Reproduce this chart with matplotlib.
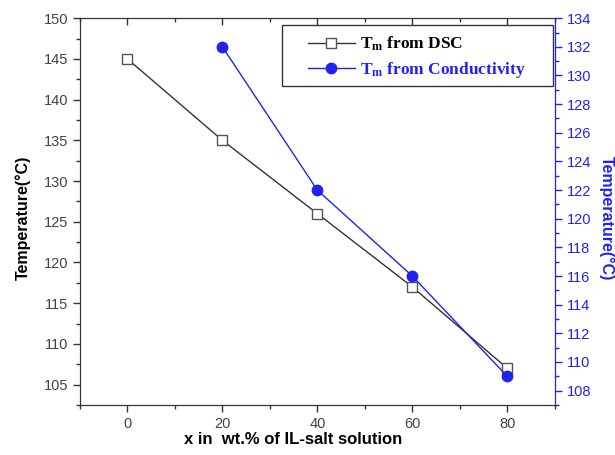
import matplotlib
matplotlib.use("Agg")
import matplotlib.pyplot as plt
from matplotlib.ticker import MultipleLocator
from matplotlib.patches import Rectangle

x_dsc = [0, 20, 40, 60, 80]
t_dsc = [145, 135, 126, 117, 107]
x_cond = [20, 40, 60, 80]
t_cond = [132, 122, 116, 109]

plt.rcParams['font.family'] = ['Liberation Sans', 'DejaVu Sans']
plt.rcParams['mathtext.fontset'] = 'custom'
plt.rcParams['mathtext.rm'] = 'Liberation Serif:bold'
plt.rcParams['mathtext.it'] = 'Liberation Serif:bold'
plt.rcParams['mathtext.bf'] = 'Liberation Serif:bold'

blue = '#2222ee'
dark = '#333333'
W, H = 615, 455
fig = plt.figure(figsize=(6.15, 4.55), dpi=100)
ax = fig.add_axes([0.130, 0.110, 0.772, 0.850])
ax2 = ax.twinx()

l1, = ax.plot(x_dsc, t_dsc, color=dark, lw=1.0, marker='s', ms=6.5,
              mfc='white', mec='#555555', mew=1.0, label=r'$\mathbf{T_m}$ from DSC')
l2, = ax2.plot(x_cond, t_cond, color=blue, lw=1.0, marker='o', ms=7.5,
               mfc=blue, mec=blue, label=r'$\mathbf{T_m}$ from Conductivity')

ax.set_xlim(-10, 90)
ax.set_ylim(102.5, 150)
ax2.set_ylim(107, 134)

ax.xaxis.set_major_locator(MultipleLocator(20))
ax.xaxis.set_minor_locator(MultipleLocator(10))
ax.yaxis.set_major_locator(MultipleLocator(5))
ax.yaxis.set_minor_locator(MultipleLocator(2.5))
ax2.yaxis.set_major_locator(MultipleLocator(2))
ax2.yaxis.set_minor_locator(MultipleLocator(1))

ax.tick_params(axis='both', which='major', direction='out', length=5, width=1,
               labelsize=10.5, labelcolor='#444444', color=dark)
ax.tick_params(axis='both', which='minor', direction='out', length=3, width=1, color=dark)
ax2.tick_params(axis='y', which='major', direction='out', length=5, width=1,
                labelsize=10.5, labelcolor=blue, color=blue)
ax2.tick_params(axis='y', which='minor', direction='out', length=3, width=1, color=blue)

# inward ticks on the top spine
ax2.xaxis.set_visible(True)
ax2.tick_params(axis='x', which='both', top=True, bottom=False, labeltop=False,
                labelbottom=False, direction='in', color=dark, width=1)
ax2.tick_params(axis='x', which='major', length=5)
ax2.tick_params(axis='x', which='minor', length=3)

for s in ['left', 'bottom', 'top']:
    ax.spines[s].set_color(dark)
    ax2.spines[s].set_color(dark)
ax2.spines['right'].set_color(blue)

ax.set_xlabel('x in  wt.% of IL-salt solution', fontsize=12, fontweight='bold', labelpad=1)
ax.xaxis.label.set_x(0.45)
ax.set_ylabel('Temperature(°C)', fontsize=11.5, fontweight='bold', labelpad=9)
ax.yaxis.label.set_y(0.483)
ax2.set_ylabel('Temperature(°C)', fontsize=11.5, fontweight='bold', color=blue,
               rotation=270, labelpad=17)
ax2.yaxis.label.set_y(0.483)

# legend frame (Origin-style box)
ax2.add_patch(Rectangle((282 / W, 1 - 86 / H), 271 / W, 61 / H,
                        transform=fig.transFigure, fill=True, facecolor='white',
                        edgecolor=dark, lw=1.0, zorder=8, clip_on=False))
leg = ax2.legend(handles=[l1, l2], loc='upper left',
                 bbox_to_anchor=(308 / W, 1 - 35 / H), bbox_transform=fig.transFigure,
                 frameon=False, handlelength=2.7, handletextpad=0.3,
                 borderpad=0, borderaxespad=0, labelspacing=0.4,
                 prop={'family': 'Liberation Serif', 'weight': 'bold', 'size': 12.5})
leg.set_zorder(10)
leg.get_texts()[1].set_color(blue)

fig.savefig('out.png', dpi=100)
